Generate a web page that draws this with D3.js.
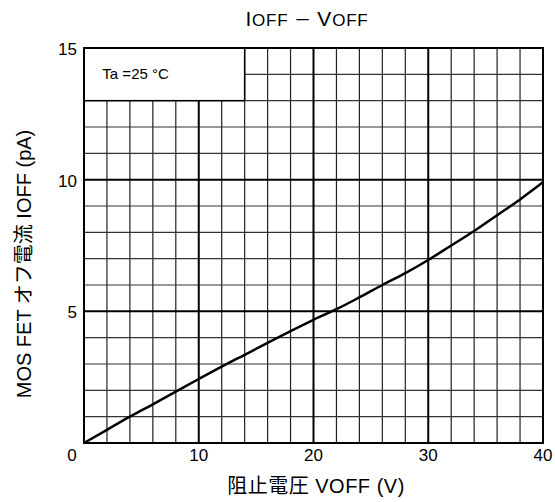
<!DOCTYPE html>
<html>
<head>
<meta charset="utf-8">
<script src="https://cdn.jsdelivr.net/npm/d3@7"></script>
<style>
  body { margin: 0; background: #fff; }
  text { font-family: "Liberation Sans", Arial, "Noto Sans CJK JP", sans-serif; fill: #000; }
</style>
</head>
<body>
<div id="chart"></div>
<script>
// data
const voltage = [0, 2, 4, 6, 8, 10, 12, 14, 16, 18, 20, 22, 24, 26, 28, 30, 32, 34, 36, 38, 40];
const current = [0, 0.5, 1.0, 1.47, 1.95, 2.43, 2.9, 3.35, 3.8, 4.25, 4.68, 5.08, 5.53, 6.0, 6.45, 6.95, 7.5, 8.05, 8.65, 9.25, 9.9];
const xTicks = [0, 10, 20, 30, 40];
const yTicks = [5, 10, 15];

const width = 555, height = 502;
const margin = { top: 48, right: 12, bottom: 59, left: 84 };

const svg = d3.select("#chart")
  .append("svg")
  .attr("width", width)
  .attr("height", height);

const x = d3.scaleLinear().domain([0, 40]).range([margin.left, width - margin.right]);
const y = d3.scaleLinear().domain([0, 15]).range([height - margin.bottom, margin.top]);

const grid = svg.append("g");

// minor grid
grid.selectAll(".vminor")
  .data(d3.range(0, 41, 2).filter(d => d % 10 !== 0))
  .enter().append("line")
  .attr("x1", d => x(d)).attr("x2", d => x(d))
  .attr("y1", y(0)).attr("y2", y(15))
  .attr("stroke", "#222").attr("stroke-width", 1.2);

grid.selectAll(".hminor")
  .data(d3.range(1, 15).filter(d => d % 5 !== 0))
  .enter().append("line")
  .attr("x1", x(0)).attr("x2", x(40))
  .attr("y1", d => y(d)).attr("y2", d => y(d))
  .attr("stroke", "#333").attr("stroke-width", 1.2);

// major grid
grid.selectAll(".vmajor")
  .data([10, 20, 30])
  .enter().append("line")
  .attr("x1", d => x(d)).attr("x2", d => x(d))
  .attr("y1", y(0)).attr("y2", y(15))
  .attr("stroke", "#000").attr("stroke-width", 2);

grid.selectAll(".hmajor")
  .data([5, 10])
  .enter().append("line")
  .attr("x1", x(0)).attr("x2", x(40))
  .attr("y1", d => y(d)).attr("y2", d => y(d))
  .attr("stroke", "#000").attr("stroke-width", 2);

// condition box
svg.append("rect")
  .attr("x", x(0)).attr("y", y(15))
  .attr("width", x(14) - x(0)).attr("height", y(13) - y(15))
  .attr("fill", "#fff").attr("stroke", "#000").attr("stroke-width", 1.5);

svg.append("text")
  .attr("x", x(1.6)).attr("y", y(14) + 5)
  .attr("font-size", 15)
  .text("Ta =25 °C");

// frame
svg.append("rect")
  .attr("x", x(0)).attr("y", y(15))
  .attr("width", x(40) - x(0)).attr("height", y(0) - y(15))
  .attr("fill", "none").attr("stroke", "#000").attr("stroke-width", 2);

// curve
const line = d3.line()
  .x((d, i) => x(voltage[i]))
  .y(d => y(d))
  .curve(d3.curveMonotoneX);

svg.append("path")
  .datum(current)
  .attr("d", line)
  .attr("fill", "none")
  .attr("stroke", "#000")
  .attr("stroke-width", 2.5);

// tick labels
svg.selectAll(".xt")
  .data(xTicks)
  .enter().append("text")
  .attr("x", d => d === 0 ? x(d) - 12 : x(d))
  .attr("y", y(0) + 18)
  .attr("text-anchor", "middle")
  .attr("font-size", 17)
  .text(d => d);

svg.selectAll(".yt")
  .data(yTicks)
  .enter().append("text")
  .attr("x", x(0) - 7)
  .attr("y", d => y(d) + 7)
  .attr("text-anchor", "end")
  .attr("font-size", 17)
  .text(d => d);

// axis titles
svg.append("text")
  .attr("x", 316).attr("y", 493)
  .attr("text-anchor", "middle")
  .attr("font-size", 20)
  .attr("letter-spacing", 0.5)
  .text("阻止電圧  VOFF (V)");

svg.append("text")
  .attr("transform", "translate(31,264) rotate(-90)")
  .attr("text-anchor", "middle")
  .attr("font-size", 20)
  .text("MOS FET オフ電流  IOFF (pA)");

// chart title
const title = svg.append("text")
  .attr("x", 307).attr("y", 26)
  .attr("text-anchor", "middle")
  .attr("font-size", 17)
  .attr("letter-spacing", 0.8);
title.append("tspan").attr("font-size", 21).text("I");
title.append("tspan").text("OFF ");
title.append("tspan").attr("font-family", "Noto Sans CJK JP").text("－");
title.append("tspan").text(" ");
title.append("tspan").attr("font-size", 21).text("V");
title.append("tspan").text("OFF");
</script>
</body>
</html>
